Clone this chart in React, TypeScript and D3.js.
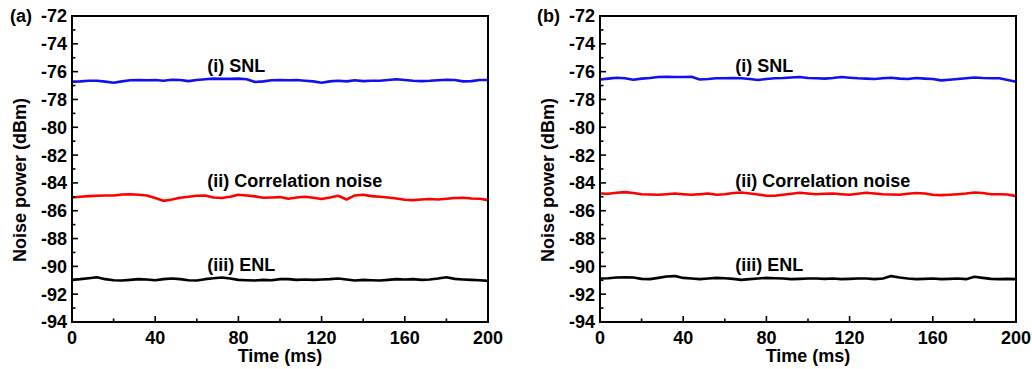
import React, { useRef, useEffect } from "react";
import * as d3 from "d3";

// sample times (ms), one reading every 4 ms
const time = d3.range(0, 201, 4);

// panel (a)
const snlA = [
  -76.72, -76.7, -76.65, -76.66, -76.72, -76.8, -76.7, -76.62, -76.6, -76.62,
  -76.6, -76.65, -76.58, -76.6, -76.68, -76.6, -76.55, -76.5, -76.52, -76.52,
  -76.5, -76.55, -76.75, -76.7, -76.62, -76.6, -76.62, -76.6, -76.65, -76.7,
  -76.8, -76.7, -76.66, -76.7, -76.62, -76.68, -76.66, -76.65, -76.6, -76.55,
  -76.6, -76.65, -76.68, -76.66, -76.62, -76.58, -76.6, -76.7, -76.68, -76.6,
  -76.6,
];
const corrA = [
  -85.05, -85.0, -84.95, -84.92, -84.9, -84.9, -84.83, -84.81, -84.85, -84.9,
  -85.09, -85.29, -85.19, -85.07, -85.0, -84.92, -84.9, -85.05, -85.09, -85.0,
  -84.85, -84.9, -84.97, -85.07, -85.05, -85.02, -85.14, -85.05, -85.0, -85.07,
  -85.16, -85.05, -84.92, -85.19, -84.9, -84.85, -84.95, -85.0, -85.05, -85.12,
  -85.21, -85.24, -85.19, -85.16, -85.19, -85.14, -85.09, -85.07, -85.12, -85.14,
  -85.24,
];
const enlA = [
  -90.97, -90.92, -90.85, -90.78, -90.92, -91.0, -91.02, -90.97, -90.92, -90.94,
  -91.0, -90.92, -90.87, -90.92, -91.0, -91.02, -90.92, -90.85, -90.8, -90.87,
  -90.97, -91.0, -91.02, -90.97, -91.0, -90.92, -90.92, -90.97, -90.94, -90.97,
  -90.94, -90.92, -90.87, -90.94, -91.02, -90.97, -91.0, -91.02, -90.97, -90.92,
  -90.94, -90.92, -90.97, -90.94, -90.87, -90.78, -90.9, -90.94, -90.97, -91.0,
  -91.04,
];

// panel (b)
const snlB = [
  -76.56, -76.5, -76.44, -76.48, -76.58, -76.5, -76.46, -76.39, -76.37, -76.39,
  -76.39, -76.37, -76.56, -76.53, -76.48, -76.48, -76.46, -76.48, -76.53, -76.6,
  -76.53, -76.48, -76.46, -76.42, -76.39, -76.46, -76.48, -76.5, -76.46, -76.39,
  -76.44, -76.48, -76.5, -76.53, -76.48, -76.44, -76.5, -76.53, -76.46, -76.5,
  -76.53, -76.63, -76.58, -76.53, -76.48, -76.42, -76.46, -76.48, -76.48, -76.6,
  -76.72,
];
const corrB = [
  -84.76, -84.78, -84.71, -84.66, -84.73, -84.81, -84.83, -84.85, -84.81, -84.76,
  -84.81, -84.85, -84.81, -84.76, -84.85, -84.81, -84.73, -84.69, -84.76, -84.83,
  -84.92, -84.92, -84.85, -84.78, -84.71, -84.76, -84.81, -84.78, -84.76, -84.81,
  -84.85, -84.78, -84.71, -84.76, -84.81, -84.83, -84.85, -84.78, -84.73, -84.76,
  -84.85, -84.88, -84.85, -84.81, -84.76, -84.69, -84.73, -84.81, -84.81, -84.83,
  -84.95,
];
const enlB = [
  -90.87, -90.85, -90.8, -90.78, -90.8, -90.9, -90.92, -90.83, -90.73, -90.7,
  -90.83, -90.87, -90.92, -90.87, -90.83, -90.85, -90.9, -90.97, -90.92, -90.87,
  -90.83, -90.85, -90.87, -90.92, -90.9, -90.87, -90.87, -90.9, -90.87, -90.92,
  -90.9, -90.87, -90.87, -90.92, -90.87, -90.7, -90.8, -90.87, -90.92, -90.9,
  -90.87, -90.92, -90.9, -90.87, -90.92, -90.75, -90.83, -90.9, -90.92, -90.9,
  -90.92,
];

const yTicks = [-72, -74, -76, -78, -80, -82, -84, -86, -88, -90, -92, -94];
const xTicks = [0, 40, 80, 120, 160, 200];
const labels = ["(i) SNL", "(ii) Correlation noise", "(iii) ENL"];
const labelLevel = [-76.05, -84.3, -90.32];
const colors = ["#1010f0", "#ff0000", "#000000"];

const font = "'Liberation Sans', Arial, sans-serif";

const Chart = () => {
  const ref = useRef<SVGSVGElement>(null);

  useEffect(() => {
    const svg = d3.select(ref.current);
    svg.selectAll("*").remove();

    const W = 1032;
    const H = 369;
    svg.attr("width", W).attr("height", H);

    const top = 16;
    const bottom = 322;
    const plotW = 416;

    const panels = [
      { tag: "(a)", tagX: 10, left: 72, series: [snlA, corrA, enlA] },
      { tag: "(b)", tagX: 537, left: 600, series: [snlB, corrB, enlB] },
    ];

    const y = d3.scaleLinear().domain([-94, -72]).range([bottom, top]);

    panels.forEach((p) => {
      const x = d3
        .scaleLinear()
        .domain([0, 200])
        .range([p.left, p.left + plotW]);
      const g = svg.append("g");

      // traces
      const line = d3
        .line<number>()
        .x((d, i) => x(time[i]))
        .y((d) => y(d));
      p.series.forEach((s, i) => {
        g.append("path")
          .datum(s)
          .attr("d", line)
          .attr("fill", "none")
          .attr("stroke", colors[i])
          .attr("stroke-width", 2.6)
          .attr("stroke-linejoin", "round");
      });

      // frame
      g.append("rect")
        .attr("x", p.left)
        .attr("y", top)
        .attr("width", plotW)
        .attr("height", bottom - top)
        .attr("fill", "none")
        .attr("stroke", "#000")
        .attr("stroke-width", 2);

      // y ticks (inward, minor every 1 dB)
      d3.range(-94, -71, 1).forEach((v) => {
        const len = v % 2 === 0 ? 6 : 3.5;
        g.append("line")
          .attr("x1", p.left)
          .attr("x2", p.left + len)
          .attr("y1", y(v))
          .attr("y2", y(v))
          .attr("stroke", "#000")
          .attr("stroke-width", 1.6);
      });
      // x ticks (inward, minor every 20 ms)
      d3.range(0, 201, 20).forEach((v) => {
        const len = v % 40 === 0 ? 6 : 3.5;
        g.append("line")
          .attr("x1", x(v))
          .attr("x2", x(v))
          .attr("y1", bottom)
          .attr("y2", bottom - len)
          .attr("stroke", "#000")
          .attr("stroke-width", 1.6);
      });

      const txt = (sel: any) =>
        sel
          .attr("font-family", font)
          .attr("font-weight", "bold")
          .attr("font-size", 18)
          .attr("fill", "#000");

      yTicks.forEach((v) => {
        g.append("text")
          .call(txt)
          .attr("x", p.left - 5)
          .attr("y", y(v))
          .attr("dy", "0.36em")
          .attr("text-anchor", "end")
          .text(v);
      });
      xTicks.forEach((v) => {
        g.append("text")
          .call(txt)
          .attr("x", x(v))
          .attr("y", 344)
          .attr("text-anchor", "middle")
          .text(v);
      });

      // axis titles
      g.append("text")
        .call(txt)
        .attr("x", p.left + plotW / 2)
        .attr("y", 362)
        .attr("text-anchor", "middle")
        .text("Time (ms)");
      g.append("text")
        .call(txt)
        .attr("transform", `translate(${p.left - 46},180) rotate(-90)`)
        .attr("text-anchor", "middle")
        .text("Noise power (dBm)");

      // panel tag
      g.append("text")
        .call(txt)
        .attr("x", p.tagX)
        .attr("y", 22)
        .text(p.tag);

      // trace labels
      labels.forEach((l, i) => {
        g.append("text")
          .call(txt)
          .attr("x", x(65))
          .attr("y", y(labelLevel[i]))
          .text(l);
      });
    });
  }, []);

  return (
    <svg
      ref={ref}
      style={{ position: "absolute", left: 0, top: 0, display: "block", background: "#fff" }}
    />
  );
};

export default function App() {
  return <Chart />;
}
